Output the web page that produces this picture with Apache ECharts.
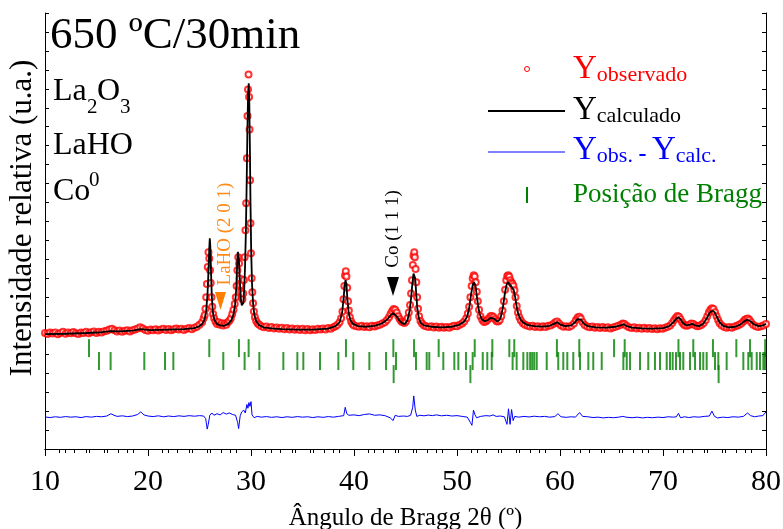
<!DOCTYPE html>
<html>
<head>
<meta charset="utf-8">
<script src="https://cdn.jsdelivr.net/npm/echarts@6/dist/echarts.min.js"></script>
<style>
  html, body { margin: 0; padding: 0; background: #fff; }
  #chart { width: 783px; height: 529px; }
</style>
</head>
<body>
<div id="chart"></div>
<script>
const FONT = 'Liberation Serif'

// observed intensity [2theta, counts]
const observado = [
  [10.0,612],[10.25,606],[10.5,615],[10.75,609],[11.0,614],[11.25,605],[11.5,612],[11.75,618],[12.0,608],[12.25,614],
  [12.5,610],[12.75,617],[13.0,611],[13.25,606],[13.5,615],[13.75,612],[14.0,618],[14.25,610],[14.5,616],[14.75,620],
  [15.0,612],[15.25,618],[15.5,614],[15.75,621],[16.0,624],[16.25,630],[16.5,634],[16.75,626],[17.0,620],[17.25,625],
  [17.5,618],[17.75,624],[18.0,627],[18.25,620],[18.5,626],[18.75,630],[19.0,636],[19.25,642],[19.5,636],[19.75,628],
  [20.0,624],[20.25,630],[20.5,626],[20.75,632],[21.0,625],[21.25,630],[21.5,634],[21.75,628],[22.0,633],[22.25,627],
  [22.5,632],[22.75,636],[23.0,630],[23.25,635],[23.5,628],[23.75,634],[24.0,638],[24.25,632],[24.5,640],[24.75,645],
  [25.0,655],[25.25,668],[25.4,690],[25.5,705],[25.58,740],[25.65,800],[25.72,870],[25.8,960],[25.87,1038],[25.95,1005],
  [26.02,943],[26.09,876],[26.16,800],[26.24,750],[26.32,712],[26.42,690],[26.55,672],[26.7,660],[26.85,668],[27.0,655],
  [27.15,664],[27.3,652],[27.45,662],[27.6,656],[27.75,668],[27.9,676],[28.05,690],[28.18,712],[28.3,735],[28.42,765],
  [28.52,800],[28.6,860],[28.68,943],[28.76,1012],[28.84,979],[28.91,900],[28.97,864],[29.03,830],[29.1,800],[29.17,790],
  [29.24,820],[29.31,891],[29.38,1012],[29.46,1154],[29.53,1296],[29.6,1534],[29.66,1756],[29.71,1897],[29.76,1976],[29.81,1857],
  [29.86,1686],[29.91,1418],[29.95,1191],[30.0,1033],[30.06,901],[30.13,827],[30.2,769],[30.28,725],[30.38,695],[30.5,675],
  [30.65,662],[30.8,655],[31.0,648],[31.25,642],[31.5,646],[31.75,638],[32.0,644],[32.25,636],[32.5,641],[32.75,634],
  [33.0,640],[33.25,632],[33.5,638],[33.75,630],[34.0,636],[34.25,629],[34.5,635],[34.75,628],[35.0,634],[35.25,627],
  [35.5,633],[35.75,626],[36.0,632],[36.25,628],[36.5,634],[36.75,630],[37.0,636],[37.25,631],[37.5,638],[37.75,634],
  [38.0,642],[38.2,648],[38.4,656],[38.6,668],[38.75,690],[38.88,725],[38.98,790],[39.06,860],[39.13,915],[39.2,938],
  [39.27,910],[39.34,850],[39.42,780],[39.5,730],[39.6,695],[39.72,672],[39.85,660],[40.0,652],[40.25,648],[40.5,645],
  [40.75,650],[41.0,643],[41.25,648],[41.5,642],[41.75,650],[42.0,646],[42.25,652],[42.5,655],[42.75,662],[43.0,668],
  [43.2,680],[43.4,695],[43.55,712],[43.7,728],[43.85,738],[44.0,735],[44.15,720],[44.3,700],[44.45,684],[44.6,672],
  [44.75,668],[44.9,665],[45.05,672],[45.2,690],[45.32,720],[45.44,760],[45.54,820],[45.63,890],[45.71,970],[45.78,1020],
  [45.85,1038],[45.91,1012],[45.98,950],[46.05,880],[46.13,800],[46.22,740],[46.32,700],[46.45,675],[46.6,662],[46.8,652],
  [47.0,648],[47.25,644],[47.5,648],[47.75,641],[48.0,646],[48.25,640],[48.5,645],[48.75,639],[49.0,644],[49.25,640],
  [49.5,646],[49.75,650],[50.0,648],[50.25,655],[50.5,662],[50.7,672],[50.9,690],[51.05,715],[51.18,750],[51.3,800],
  [51.42,860],[51.52,900],[51.62,917],[51.72,910],[51.82,880],[51.92,830],[52.02,780],[52.14,735],[52.28,700],[52.45,680],
  [52.62,670],[52.8,672],[52.95,680],[53.1,690],[53.25,700],[53.4,702],[53.55,695],[53.7,684],[53.85,674],[54.0,672],
  [54.15,680],[54.3,700],[54.42,730],[54.55,780],[54.67,840],[54.78,890],[54.88,912],[54.98,917],[55.08,908],[55.18,890],
  [55.28,878],[55.38,872],[55.48,860],[55.58,838],[55.68,800],[55.8,755],[55.92,720],[56.05,695],[56.2,678],[56.4,664],
  [56.6,655],[56.85,650],[57.1,646],[57.35,650],[57.6,644],[57.85,648],[58.1,642],[58.35,647],[58.6,644],[58.85,650],
  [59.1,652],[59.35,660],[59.55,668],[59.72,672],[59.9,662],[60.1,652],[60.35,645],[60.6,648],[60.85,644],[61.1,650],
  [61.35,662],[61.55,680],[61.72,694],[61.88,698],[62.02,688],[62.2,668],[62.4,654],[62.65,646],[62.9,642],[63.15,646],
  [63.4,640],[63.65,644],[63.9,638],[64.15,643],[64.4,638],[64.65,642],[64.9,636],[65.15,641],[65.4,645],[65.65,650],
  [65.9,655],[66.1,662],[66.25,660],[66.45,650],[66.7,642],[66.95,638],[67.2,642],[67.45,636],[67.7,640],[67.95,635],
  [68.2,639],[68.45,634],[68.7,638],[68.95,633],[69.2,637],[69.45,632],[69.7,637],[69.95,634],[70.2,640],[70.45,645],
  [70.7,652],[70.9,665],[71.08,680],[71.25,693],[71.4,701],[71.55,698],[71.7,684],[71.85,668],[72.0,658],[72.15,652],
  [72.35,650],[72.55,656],[72.75,662],[72.95,660],[73.15,652],[73.35,648],[73.55,650],[73.75,656],[73.95,665],[74.15,680],
  [74.3,700],[74.45,720],[74.6,735],[74.75,743],[74.9,738],[75.05,722],[75.2,700],[75.35,680],[75.5,664],[75.7,652],
  [75.95,644],[76.2,640],[76.45,644],[76.7,640],[76.95,646],[77.2,650],[77.4,656],[77.6,662],[77.8,672],[77.95,682],
  [78.1,686],[78.25,688],[78.4,680],[78.55,668],[78.75,656],[79.0,648],[79.25,644],[79.5,648],[79.75,652],[80.0,660]
]

// calculated profile [2theta, counts]
const calculado = [
  [10,606],[12,608],[14,612],[15.5,616],[16.4,622],[17.2,620],[18.5,624],[19.3,632],[20.2,627],[22,630],
  [23.5,632],[24.5,638],[25.0,648],[25.3,662],[25.5,685],[25.65,730],[25.78,820],[25.88,950],[25.95,1060],[26.0,1112],
  [26.05,1070],[26.12,930],[26.2,800],[26.3,720],[26.45,680],[26.7,660],[27.0,652],[27.4,650],[27.8,660],[28.1,680],
  [28.3,710],[28.45,760],[28.56,840],[28.65,960],[28.72,1040],[28.76,1049],[28.82,1010],[28.9,900],[29.0,800],[29.1,758],
  [29.18,748],[29.26,770],[29.34,840],[29.42,960],[29.5,1140],[29.58,1400],[29.65,1680],[29.72,1880],[29.78,1929],[29.83,1850],
  [29.89,1600],[29.95,1300],[30.02,1040],[30.1,870],[30.2,770],[30.32,710],[30.5,675],[30.75,655],[31.2,642],[32,636],
  [33,632],[34.5,630],[36,630],[37.5,635],[38.2,648],[38.6,668],[38.85,720],[39.0,800],[39.1,870],[39.18,891],
  [39.26,870],[39.36,790],[39.48,720],[39.65,680],[39.9,660],[40.4,648],[41.2,645],[42,650],[42.7,662],[43.2,682],
  [43.55,705],[43.8,717],[43.95,715],[44.15,700],[44.4,678],[44.7,662],[44.95,660],[45.2,680],[45.4,730],[45.55,800],
  [45.68,880],[45.78,925],[45.86,928],[45.94,900],[46.04,820],[46.15,740],[46.3,690],[46.5,664],[46.8,652],[47.5,645],
  [48.5,642],[49.5,645],[50.2,655],[50.7,672],[51.0,700],[51.2,750],[51.38,820],[51.52,865],[51.65,880],[51.78,865],
  [51.9,820],[52.05,755],[52.2,712],[52.4,685],[52.7,674],[53.0,680],[53.25,692],[53.42,696],[53.6,688],[53.85,675],
  [54.05,676],[54.25,695],[54.45,745],[54.62,810],[54.78,860],[54.92,880],[55.05,878],[55.2,862],[55.35,852],[55.5,840],
  [55.65,800],[55.8,750],[55.95,712],[56.15,685],[56.4,668],[56.8,655],[57.5,648],[58.3,646],[59.0,650],[59.4,660],
  [59.72,668],[60.05,656],[60.5,648],[61.1,652],[61.45,668],[61.7,685],[61.88,690],[62.05,682],[62.3,662],[62.7,648],
  [63.5,642],[64.5,640],[65.4,645],[65.9,652],[66.2,658],[66.5,648],[67,640],[68,636],[69,635],[70,638],
  [70.6,648],[71.0,668],[71.3,688],[71.5,694],[71.7,685],[71.95,664],[72.3,652],[72.6,656],[72.85,660],[73.1,652],
  [73.5,648],[73.9,660],[74.25,690],[74.55,720],[74.8,730],[75.0,722],[75.25,695],[75.5,668],[75.85,650],[76.4,642],
  [77,645],[77.5,656],[77.85,672],[78.15,682],[78.3,684],[78.5,674],[78.8,658],[79.3,648],[79.7,652],[80,660]
]

// difference curve (Yobs - Ycalc, offset)
const diferenca = [
  [10,169],[10.5,166],[11,170],[11.5,167],[12,171],[12.5,168],[13,170],[13.5,166],[14,171],[14.5,168],
  [15,172],[15.5,170],[16,174],[16.4,186],[16.7,178],[17,172],[17.5,175],[18,171],[18.5,174],[19,182],
  [19.3,196],[19.6,180],[20,174],[20.5,171],[21,175],[21.5,170],[22,174],[22.5,171],[23,175],[23.5,172],
  [24,176],[24.5,173],[25,176],[25.4,174],[25.6,160],[25.75,105],[25.85,130],[26.0,178],[26.2,190],[26.4,178],
  [26.7,186],[27.0,180],[27.3,192],[27.6,184],[27.9,190],[28.2,182],[28.5,178],[28.7,140],[28.8,108],[28.95,175],
  [29.1,196],[29.3,205],[29.45,190],[29.6,235],[29.7,215],[29.8,245],[29.9,225],[30.0,250],[30.1,180],[30.3,165],
  [30.6,172],[31,168],[31.5,171],[32,167],[32.5,170],[33,166],[33.5,170],[34,167],[34.5,171],[35,168],
  [35.5,170],[36,166],[36.5,170],[37,167],[37.5,171],[38,168],[38.5,172],[39.0,176],[39.15,220],[39.3,186],
  [39.5,178],[40,180],[40.5,176],[41,182],[41.5,185],[42,178],[42.5,180],[43,176],[43.5,165],[43.8,150],
  [44.0,178],[44.3,172],[44.8,174],[45.2,172],[45.5,178],[45.7,220],[45.8,280],[45.95,205],[46.1,172],[46.4,178],
  [46.8,175],[47.2,179],[47.6,176],[48,180],[48.5,175],[49,178],[49.5,174],[50,176],[50.5,172],[51,168],
  [51.3,140],[51.45,125],[51.6,205],[51.75,180],[51.9,165],[52.3,172],[52.8,176],[53.2,174],[53.5,180],[53.8,172],
  [54.2,174],[54.6,170],[54.85,130],[55.0,212],[55.15,130],[55.3,208],[55.45,150],[55.6,172],[56,168],[56.5,172],
  [57,169],[57.5,173],[58,170],[58.5,172],[59,168],[59.5,171],[59.8,186],[60.1,170],[60.6,167],[61.1,170],
  [61.5,168],[61.9,192],[62.2,172],[62.7,170],[63.2,166],[63.7,168],[64.2,164],[64.7,167],[65.2,165],[65.7,168],
  [66.1,172],[66.4,168],[67,165],[67.5,168],[68,164],[68.5,167],[69,165],[69.5,168],[70,166],[70.5,170],
  [71,168],[71.3,170],[71.5,188],[71.7,165],[72.1,170],[72.5,166],[73,170],[73.5,168],[74,172],[74.5,174],
  [74.75,200],[75,172],[75.3,164],[75.8,168],[76.3,166],[76.8,170],[77.3,168],[77.8,172],[78.2,190],[78.5,176],
  [78.9,170],[79.3,174],[79.7,176],[80,196]
]

// Bragg positions (2theta) for the three phases
const braggFase1 = [14.27, 25.95, 28.83, 29.77, 39.22, 43.82, 45.83, 48.22, 51.72, 53.43, 55.08, 55.56,
  59.7, 61.87, 65.25, 66.28, 71.5, 72.94, 74.85, 77.12, 78.45, 79.92]
const braggFase2 = [15.24, 16.37, 19.64, 21.65, 22.46, 27.31, 29.38, 30.81, 33.14, 34.5, 35.08, 36.7,
  38.48, 39.93, 41.49, 43.11, 44.08, 46.02, 47.06, 47.31, 48.67, 49.74, 50.13, 50.87, 51.52, 52.5,
  52.94, 53.37, 55.4, 55.79, 56.44, 56.83, 57.1, 57.3, 57.5, 57.74, 58.71, 59.83, 60.32, 60.71,
  61.29, 61.94, 62.75, 63.23, 64.05, 66.15, 66.48, 66.8, 67.77, 68.57, 69.22, 69.71, 70.36, 70.68,
  70.94, 71.26, 71.65, 71.97, 72.62, 73.11, 73.59, 73.91, 74.24, 75.05, 75.37, 76.18, 77.8, 78.28,
  78.61, 79.1, 79.42, 79.74, 79.9]
const braggFase3 = [43.85, 51.3, 75.4]

const xTicks = { min: 10, max: 80, step: 10 }

const chart = echarts.init(document.getElementById('chart'))

const tickRow = (list, level, h) => ({
  type: 'scatter',
  symbol: 'rect',
  symbolSize: [2, h],
  itemStyle: { color: '#008000' },
  silent: true,
  data: list.map(a => [a, level])
})

const yAxisBase = {
  type: 'value',
  min: 0,
  max: 2300,
  interval: 100,
  axisLabel: { show: false },
  axisLine: { show: true, lineStyle: { color: '#000', width: 1 } },
  axisTick: { show: true, inside: true, length: 4, lineStyle: { color: '#000' } },
  splitLine: { show: false }
}

const option = {
  backgroundColor: '#fff',
  animation: false,
  grid: { left: 45, right: 17, top: 13, bottom: 80, containLabel: false, outerBoundsMode: 'none' },
  xAxis: [
    {
      type: 'value',
      min: xTicks.min,
      max: xTicks.max,
      interval: xTicks.step,
      name: 'Ângulo de Bragg 2θ (º)',
      nameLocation: 'middle',
      nameGap: 57,
      nameTextStyle: { fontFamily: FONT, fontSize: 25, color: '#000' },
      axisLine: { lineStyle: { color: '#000', width: 1 } },
      axisTick: { show: true, inside: false, length: 7, lineStyle: { color: '#000' } },
      minorTick: { show: true, splitNumber: 5, length: 4, lineStyle: { color: '#000' } },
      axisLabel: { fontFamily: FONT, fontSize: 30, color: '#000', margin: 18 },
      splitLine: { show: false }
    },
    {
      type: 'value',
      position: 'top',
      min: xTicks.min,
      max: xTicks.max,
      interval: xTicks.step,
      axisLine: { show: true, lineStyle: { color: '#000', width: 1 } },
      axisTick: { show: true, inside: true, length: 4, lineStyle: { color: '#000' } },
      minorTick: { show: true, splitNumber: 7, length: 4, lineStyle: { color: '#000' } },
      axisLabel: { show: false },
      splitLine: { show: false }
    }
  ],
  yAxis: [
    Object.assign({}, yAxisBase),
    Object.assign({}, yAxisBase, { position: 'right' })
  ],
  series: [
    tickRow(braggFase1, 532, 18),
    tickRow(braggFase2, 464, 18),
    tickRow(braggFase3, 395, 18),
    {
      type: 'line',
      data: diferenca,
      showSymbol: false,
      lineStyle: { color: '#0000ff', width: 1 },
      silent: true
    },
    {
      type: 'scatter',
      data: observado,
      symbol: 'emptyCircle',
      symbolSize: 6,
      itemStyle: { color: '#ff0000', borderColor: '#ff0000', borderWidth: 1.2 },
      silent: true
    },
    {
      type: 'line',
      data: calculado,
      showSymbol: false,
      lineStyle: { color: '#000', width: 1.8 },
      silent: true
    }
  ],
  graphic: [
    // axis title (placed like the original, slightly above the plot centre)
    { type: 'text', x: 22.5, y: 218, rotation: Math.PI / 2, style: { text: 'Intensidade relativa (u.a.)', fontFamily: FONT, fontSize: 31, fill: '#000', align: 'center', verticalAlign: 'middle' } },

    // sample info
    { type: 'text', x: 50, y: 59, style: { text: '650 ºC/30min', fontFamily: FONT, fontSize: 45, fill: '#000', verticalAlign: 'bottom' } },
    { type: 'text', x: 53, y: 108, style: { text: 'La', fontFamily: FONT, fontSize: 32, fill: '#000', verticalAlign: 'bottom' } },
    { type: 'text', x: 87, y: 118, style: { text: '2', fontFamily: FONT, fontSize: 21, fill: '#000', verticalAlign: 'bottom' } },
    { type: 'text', x: 97, y: 108, style: { text: 'O', fontFamily: FONT, fontSize: 32, fill: '#000', verticalAlign: 'bottom' } },
    { type: 'text', x: 120, y: 118, style: { text: '3', fontFamily: FONT, fontSize: 21, fill: '#000', verticalAlign: 'bottom' } },
    { type: 'text', x: 53, y: 162, style: { text: 'LaHO', fontFamily: FONT, fontSize: 32, fill: '#000', verticalAlign: 'bottom' } },
    { type: 'text', x: 53, y: 208, style: { text: 'Co', fontFamily: FONT, fontSize: 32, fill: '#000', verticalAlign: 'bottom' } },
    { type: 'text', x: 89, y: 191, style: { text: '0', fontFamily: FONT, fontSize: 21, fill: '#000', verticalAlign: 'bottom' } },

    // peak markers
    { type: 'polygon', shape: { points: [[215, 292], [226, 292], [220.5, 310]] }, style: { fill: '#ff8000' } },
    { type: 'text', x: 225, y: 234, rotation: Math.PI / 2, style: { text: 'LaHO (2 0 1)', fontFamily: FONT, fontSize: 19, fill: '#ff8c1a', align: 'center', verticalAlign: 'middle' } },
    { type: 'polygon', shape: { points: [[387, 277], [399, 277], [393, 296]] }, style: { fill: '#000' } },
    { type: 'text', x: 393, y: 229, rotation: Math.PI / 2, style: { text: 'Co (1 1 1)', fontFamily: FONT, fontSize: 19, fill: '#000', align: 'center', verticalAlign: 'middle' } },

    // legend
    { type: 'circle', shape: { cx: 527, cy: 69, r: 2.5 }, style: { fill: 'none', stroke: '#ff0000', lineWidth: 1 } },
    { type: 'text', x: 573, y: 86, style: {
      text: '{a|Y}{b|observado}', verticalAlign: 'bottom',
      rich: {
        a: { fontFamily: FONT, fontSize: 33, lineHeight: 33, verticalAlign: 'bottom', fill: '#ff0000' },
        b: { fontFamily: FONT, fontSize: 22, lineHeight: 26, verticalAlign: 'bottom', fill: '#ff0000' }
      } } },
    { type: 'line', shape: { x1: 488, y1: 111, x2: 565, y2: 111 }, style: { stroke: '#000', lineWidth: 2 } },
    { type: 'text', x: 573, y: 127, style: {
      text: '{a|Y}{b|calculado}', verticalAlign: 'bottom',
      rich: {
        a: { fontFamily: FONT, fontSize: 33, lineHeight: 33, verticalAlign: 'bottom', fill: '#000' },
        b: { fontFamily: FONT, fontSize: 22, lineHeight: 26, verticalAlign: 'bottom', fill: '#000' }
      } } },
    { type: 'line', shape: { x1: 488, y1: 152, x2: 565, y2: 152 }, style: { stroke: '#0000ff', lineWidth: 1 } },
    { type: 'text', x: 573, y: 167, style: {
      text: '{a|Y}{b|obs. }{c|-}{b| }{a|Y}{b|calc.}', verticalAlign: 'bottom',
      rich: {
        a: { fontFamily: FONT, fontSize: 33, lineHeight: 33, verticalAlign: 'bottom', fill: '#0000ff' },
        b: { fontFamily: FONT, fontSize: 22, lineHeight: 26, verticalAlign: 'bottom', fill: '#0000ff' },
        c: { fontFamily: FONT, fontSize: 24, fontWeight: 'bold', lineHeight: 28, verticalAlign: 'bottom', fill: '#0000ff' }
      } } },
    { type: 'line', shape: { x1: 527, y1: 187, x2: 527, y2: 203 }, style: { stroke: '#008000', lineWidth: 2 } },
    { type: 'text', x: 573, y: 208, style: { text: 'Posição de Bragg', fontFamily: FONT, fontSize: 27, fill: '#008000', verticalAlign: 'bottom' } }
  ]
}

chart.setOption(option)
</script>
</body>
</html>
